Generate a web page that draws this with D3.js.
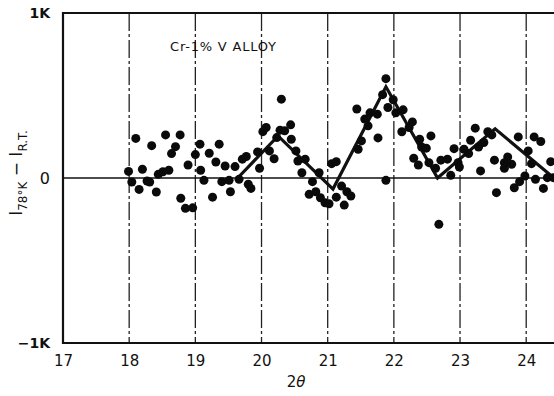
<!DOCTYPE html>
<html>
<head>
<meta charset="utf-8">
<script src="https://cdn.jsdelivr.net/npm/d3@7/dist/d3.min.js"></script>
<style>
  html, body { margin: 0; padding: 0; background: #fff; }
  svg { display: block; }
  text { font-family: "DejaVu Sans", Arial, sans-serif; fill: #111; }
</style>
</head>
<body>
<svg id="chart" width="554" height="396"></svg>
<script>
// Difference in diffracted intensity (78°K minus room temperature) vs 2θ
const twoTheta = [
  17.99, 18.10, 18.04, 18.15, 18.20, 18.27, 18.31, 18.34, 18.41, 18.44,
  18.51, 18.55, 18.60, 18.64, 18.70, 18.77, 18.78, 18.85, 18.89, 18.96,
  19.00, 19.07, 19.08, 19.13, 19.21, 19.26, 19.31, 19.36, 19.40, 19.45,
  19.51, 19.53, 19.60, 19.66, 19.71, 19.77, 19.80, 19.84, 19.94, 19.97,
  20.02, 20.07, 20.12, 20.19, 20.23, 20.28, 20.30, 20.35, 20.44, 20.45,
  20.52, 20.55, 20.66, 20.61, 20.77, 20.72, 20.82, 20.89, 20.87, 20.96,
  21.02, 21.06, 21.13, 21.13, 21.21, 21.25, 21.29, 21.35, 21.46, 21.51,
  21.44, 21.56, 21.64, 21.61, 21.75, 21.76, 21.83, 21.88, 21.88, 21.91,
  21.99, 22.03, 22.14, 22.12, 22.23, 22.28, 22.39, 22.42, 22.56, 22.49,
  22.30, 22.37, 22.53, 22.63, 22.71, 22.81, 22.91, 22.86, 22.97, 22.68,
  22.99, 23.06, 23.13, 23.16, 23.23, 23.28, 23.36, 23.42, 23.48, 23.31,
  23.52, 23.55, 23.67, 23.72, 23.67, 23.78, 23.82, 23.88, 23.90, 23.98,
  24.03, 24.08, 24.12, 24.22, 24.14, 24.26, 24.32, 24.37, 24.41
];
const intensityDiff = [
    40,  240,  -24,  -69,   53,  -18,  -24,  196,  -85,   22,
    38,  261,   47,  148,  190,  261, -123, -184,   79, -181,
   142,  205,   47,  -14,  150, -116,   97,  205,  -22,   73,
   -14,  -83,   69,   -8,  114,  130,  -38,  -63,  158,   59,
   281,  306,  164,  117,  245,  290,  478,  286,  322,  235,
   164,  103,  114,   32,  -22,  -99,  -83, -120,   32, -150,
  -156,   87,   99, -116,  -49, -164,  -83, -109,  174,  225,
   418,  357,  395,  316,  387,  243,  505,  602,  -14,  427,
   474,  395,  413,  280,  306,  340,  235,  188,  255,  181,
   120,   79,   93,   59,  108,  114,  178,   16,   93, -281,
    67,  174,  148,  229,  302,  188,  215,  281,  261,   43,
   108,  -89,   93,  128,   59,   83,  -59,  249,  -22,   12,
   164,   87,  249,  221,   -8,  -63,    2,   99,    2
];

// Fitted broken-line profile (knots)
const fitTheta = [19.64, 20.25, 21.08, 21.88, 22.66, 23.53, 24.42];
const fitValue = [0, 255, -67, 553, 0, 298, 0];

// Axis ticks
const xTicks = [17, 18, 19, 20, 21, 22, 23, 24];
const xTickLabels = ["17", "18", "19", "20", "21", "22", "23", "24"];
const yTicks = [-1000, 0, 1000];
const yTickLabels = ["\u22121K", "0", "1K"];
const gridTicks = [18, 19, 20, 21, 22, 23, 24];

const svg = d3.select("#chart");
const plotLeft = 63, plotRight = 554, plotTop = 13, plotBottom = 343;

const x = d3.scaleLinear().domain([17, 24.42]).range([plotLeft, plotRight]);
const y = d3.scaleLinear().domain([-1000, 1000]).range([plotBottom, plotTop]);

// Vertical dash-dot grid lines
svg.append("g")
  .selectAll("line")
  .data(gridTicks)
  .join("line")
  .attr("x1", d => x(d)).attr("x2", d => x(d))
  .attr("y1", plotTop).attr("y2", plotBottom)
  .attr("stroke", "#222")
  .attr("stroke-width", 1.3)
  .attr("stroke-dasharray", "18,3,3,3");

// Zero line
svg.append("line")
  .attr("x1", plotLeft).attr("x2", plotRight)
  .attr("y1", y(0)).attr("y2", y(0))
  .attr("stroke", "#111").attr("stroke-width", 1.6);

// Frame: top, left, bottom
svg.append("path")
  .attr("d", `M${plotRight},${plotTop}H${plotLeft}V${plotBottom}H${plotRight}`)
  .attr("fill", "none")
  .attr("stroke", "#111")
  .attr("stroke-width", 2.2);

// Bottom axis labels
const xAxis = d3.axisBottom(x)
  .tickValues(xTicks)
  .tickSize(0)
  .tickPadding(12)
  .tickFormat((d, i) => xTickLabels[i]);
const gx = svg.append("g")
  .attr("transform", `translate(0,${plotBottom})`)
  .call(xAxis);
gx.select(".domain").remove();
gx.selectAll("text")
  .attr("font-size", 15)
  .attr("font-family", "DejaVu Sans, sans-serif")
  .attr("fill", "#111");

// Left axis labels
const yAxis = d3.axisLeft(y)
  .tickValues(yTicks)
  .tickSize(0)
  .tickPadding(13)
  .tickFormat((d, i) => yTickLabels[i]);
const gy = svg.append("g")
  .attr("transform", `translate(${plotLeft},0)`)
  .call(yAxis);
gy.select(".domain").remove();
gy.selectAll("text")
  .attr("font-size", d => d === 0 ? 16 : 14)
  .attr("font-weight", d => d === 0 ? "normal" : "bold")
  .attr("font-family", "DejaVu Sans, sans-serif")
  .attr("fill", "#111");

// Fitted line
const pts = fitTheta.map((t, i) => [t, fitValue[i]]);
svg.append("path")
  .datum(pts)
  .attr("d", d3.line().x(d => x(d[0])).y(d => y(d[1])))
  .attr("fill", "none")
  .attr("stroke", "#111")
  .attr("stroke-width", 3.2)
  .attr("stroke-linejoin", "miter");

// Data points
svg.append("g")
  .selectAll("circle")
  .data(twoTheta.map((t, i) => [t, intensityDiff[i]]))
  .join("circle")
  .attr("cx", d => x(d[0]))
  .attr("cy", d => y(d[1]))
  .attr("r", 4.5)
  .attr("fill", "#0a0a0a");

// Sample label
svg.append("text")
  .attr("x", 170).attr("y", 51)
  .attr("font-size", 13)
  .attr("letter-spacing", 0.8)
  .text("Cr-1% V ALLOY");

// X axis title
svg.append("text")
  .attr("x", 296).attr("y", 387)
  .attr("text-anchor", "middle")
  .attr("font-size", 15)
  .html('2<tspan font-style="italic">\u03B8</tspan>');

// Y axis title
const yt = svg.append("text")
  .attr("transform", `translate(22,${y(0) - 5}) rotate(-90)`)
  .attr("text-anchor", "middle")
  .attr("font-size", 17);
yt.append("tspan").text("I");
yt.append("tspan").attr("font-size", 12).attr("dy", 5).text("78\u00B0K");
yt.append("tspan").attr("dy", -5).text(" \u2212 I");
yt.append("tspan").attr("font-size", 12).attr("dy", 5).text("R.T.");
</script>
</body>
</html>
